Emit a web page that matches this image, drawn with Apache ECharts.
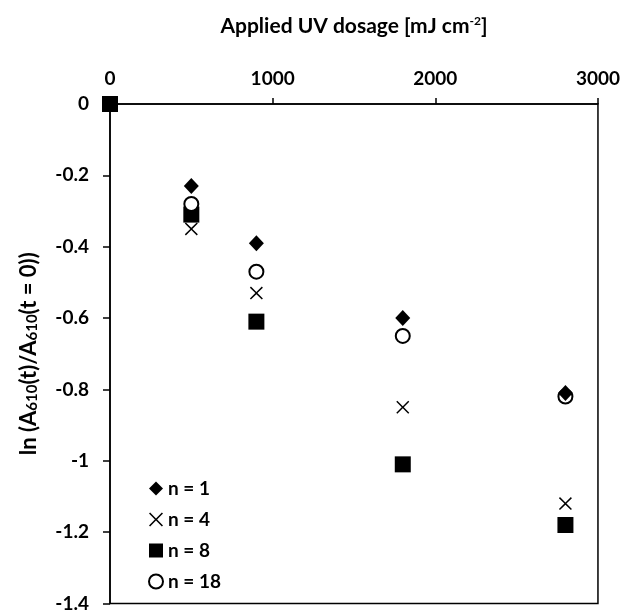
<!DOCTYPE html>
<html>
<head>
<meta charset="utf-8">
<script src="https://cdn.jsdelivr.net/npm/echarts@6/dist/echarts.min.js"></script>
<style>
  html, body { margin: 0; padding: 0; background: #fff; }
  #chart { width: 623px; height: 613px; }
</style>
</head>
<body>
<div id="chart"></div>
<script>
// applied UV dosage (mJ cm-2)
var dose = [0, 500, 900, 1800, 2800];
// ln(A610(t)/A610(t=0)) per number of layers
var n1 = [0, -0.23, -0.39, -0.60, -0.81];
var n4 = [0, -0.35, -0.53, -0.85, -1.12];
var n8 = [0, -0.31, -0.61, -1.01, -1.18];
var n18 = [null, -0.28, -0.47, -0.65, -0.82];
var seriesNames = ['n = 1', 'n = 4', 'n = 8', 'n = 18'];

var FONT = 'Lato';
var crossPath = 'path://M0,8 L8,0 L50,42 L92,0 L100,8 L58,50 L100,92 L92,100 L50,58 L8,100 L0,92 L42,50 Z';

function pairs(ys) {
  var out = [];
  for (var i = 0; i < dose.length; i++) {
    if (ys[i] !== null) out.push([dose[i], ys[i]]);
  }
  return out;
}

var chart = echarts.init(document.getElementById('chart'));
var option = {
  backgroundColor: '#fff',
  animation: false,
  grid: {
    left: 110, right: 25, top: 104, bottom: 9,
    show: true, borderColor: '#000', borderWidth: 1.5, backgroundColor: 'transparent'
  },
  legend: {
    data: seriesNames,
    orient: 'vertical',
    left: 143, top: 474, height: 140,
    itemWidth: 14, itemHeight: 14, itemGap: 12,
    textStyle: { fontFamily: FONT, fontWeight: 'bold', fontSize: 19, lineHeight: 16, color: '#000', padding: [0, 0, 0, 0] }
  },
  xAxis: {
    type: 'value',
    position: 'top',
    min: 0, max: 3000, interval: 1000,
    name: 'Applied UV dosage [mJ cm{sup|-2}]',
    nameLocation: 'middle',
    nameGap: 66,
    nameTextStyle: {
      fontFamily: FONT, fontWeight: 'bold', fontSize: 21, color: '#000',
      rich: { sup: { fontFamily: FONT, fontWeight: 'bold', fontSize: 12, color: '#000', verticalAlign: 'top', padding: [0, 0, 11, 0] } }
    },
    axisLine: { show: true, onZero: false, lineStyle: { color: '#000', width: 1.5 } },
    axisTick: { show: true, length: 6, lineStyle: { color: '#000', width: 1.5 } },
    axisLabel: {
      margin: 16, fontFamily: FONT, fontWeight: 'bold', fontSize: 19, color: '#000',
      formatter: function (v) { return String(v); }
    },
    splitLine: { show: false }
  },
  yAxis: {
    type: 'value',
    min: -1.4, max: 0, interval: 0.2,
    name: 'ln (A{sub|610}(t)/A{sub|610}(t = 0))',
    nameLocation: 'middle',
    nameRotate: 90,
    nameGap: 70,
    nameTextStyle: {
      fontFamily: FONT, fontWeight: 'bold', fontSize: 22, color: '#000',
      rich: { sub: { fontFamily: FONT, fontWeight: 'bold', fontSize: 15, color: '#000', verticalAlign: 'bottom', padding: [7, 0, 0, 0] } }
    },
    axisLine: { show: true, onZero: false, lineStyle: { color: '#000', width: 1.5 } },
    axisTick: { show: true, length: 7, lineStyle: { color: '#000', width: 1.5 } },
    axisLabel: { margin: 21, fontFamily: FONT, fontWeight: 'bold', fontSize: 19, color: '#000' },
    splitLine: { show: false }
  },
  series: [
    {
      name: seriesNames[0], type: 'scatter', z: 5,
      symbol: 'diamond', symbolSize: [15, 16],
      itemStyle: { color: '#000', opacity: 1 },
      data: pairs(n1)
    },
    {
      name: seriesNames[1], type: 'scatter', z: 2,
      symbol: crossPath, symbolSize: 13,
      itemStyle: { color: '#000', opacity: 1 },
      data: pairs(n4)
    },
    {
      name: seriesNames[2], type: 'scatter', z: 3,
      symbol: 'rect', symbolSize: 16,
      itemStyle: { color: '#000', opacity: 1 },
      data: pairs(n8)
    },
    {
      name: seriesNames[3], type: 'scatter', z: 4,
      symbol: 'emptyCircle', symbolSize: 14,
      itemStyle: { color: '#000', borderColor: '#000', borderWidth: 2, opacity: 1 },
      data: pairs(n18)
    }
  ]
};
chart.setOption(option);
</script>
</body>
</html>
